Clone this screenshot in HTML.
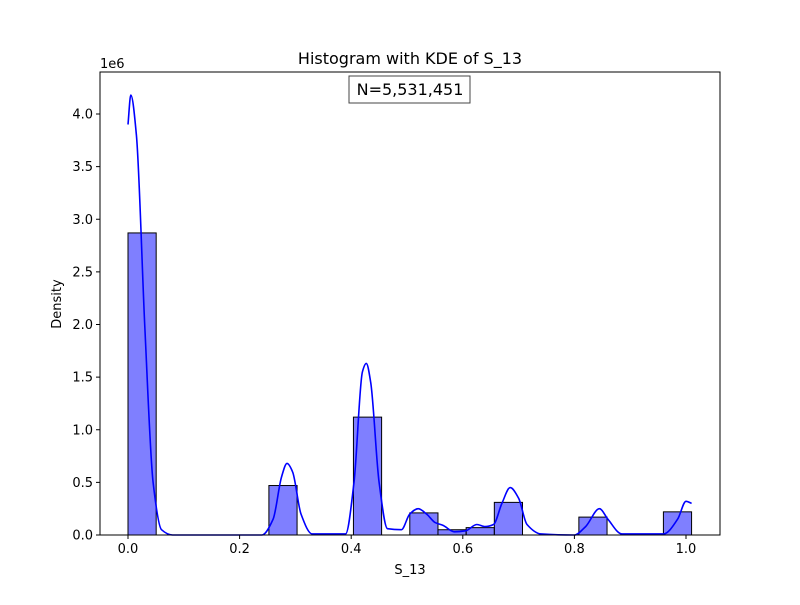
<!DOCTYPE html>
<html><head><meta charset="utf-8"><style>
body{margin:0;background:#fff}
svg{font-family:"DejaVu Sans","Liberation Sans",sans-serif}
</style></head><body>
<svg id="chart" width="800" height="600">
<rect width="800" height="600" fill="#fff"/>
<g id="bars"></g>
<g id="kde"></g>
<rect x="100" y="72" width="620" height="463" fill="none" stroke="#000" stroke-width="1"/>
<g id="xt"></g>
<g id="yt"></g>
<text x="410" y="64" font-size="16" text-anchor="middle">Histogram with KDE of S_13</text>
<text x="100" y="68" font-size="13">1e6</text>
<text x="410" y="574" font-size="13" text-anchor="middle">S_13</text>
<text x="61" y="304" font-size="13" text-anchor="middle" transform="rotate(-90 61 304)">Density</text>
<rect x="349" y="76" width="121" height="27" fill="#fff" stroke="#444"/>
<text x="410" y="95" font-size="16" text-anchor="middle">N=5,531,451</text>
</svg>
<script>
const binIndex=[0,5,8,10,11,12,13,16,19];
const binValues=[2.87,0.47,1.12,0.21,0.05,0.07,0.31,0.17,0.22];
const binWidth=0.0505;
const kdeX=[0,0.005,0.015,0.03,0.045,0.06,0.08,0.24,0.26,0.275,0.285,0.295,0.31,0.33,0.39,0.405,0.42,0.427,0.435,0.45,0.465,0.49,0.505,0.52,0.535,0.55,0.565,0.585,0.605,0.625,0.64,0.655,0.67,0.685,0.70,0.715,0.74,0.8,0.82,0.845,0.86,0.885,0.96,0.985,1.0,1.01];
const kdeY=[3.9,4.18,3.8,2.0,0.5,0.05,0.0,0.0,0.15,0.55,0.68,0.6,0.2,0.01,0.01,0.5,1.55,1.63,1.45,0.5,0.06,0.05,0.2,0.25,0.2,0.12,0.09,0.03,0.04,0.1,0.08,0.1,0.3,0.45,0.35,0.1,0.01,0.0,0.08,0.25,0.15,0.01,0.01,0.15,0.32,0.3];
const xTicks=[0,0.2,0.4,0.6,0.8,1.0];
const xTickLabels=["0.0","0.2","0.4","0.6","0.8","1.0"];
const yTicks=[0,0.5,1,1.5,2,2.5,3,3.5,4];
const yTickLabels=["0.0","0.5","1.0","1.5","2.0","2.5","3.0","3.5","4.0"];
const NS="http://www.w3.org/2000/svg";
const sx=v=>128+v*558, sy=v=>535-v*105.25;
function mk(t,a,p){const e=document.createElementNS(NS,t);for(const k in a)e.setAttribute(k,a[k]);p.appendChild(e);return e;}
const bg=document.getElementById('bars');
binIndex.forEach((b,i)=>{const x0=sx(b*binWidth),x1=sx((b+1)*binWidth);
const r=mk('rect',{x:x0,y:sy(binValues[i]),width:x1-x0,height:sy(0)-sy(binValues[i]),fill:'rgba(0,0,255,0.5)',stroke:'#000','stroke-width':1},bg);

});
// smooth curve (monotone cubic through points)
const P=kdeX.map((x,i)=>[sx(x),sy(kdeY[i])]);
const n=P.length,m=[];
for(let i=0;i<n;i++){let s0=i>0?(P[i][1]-P[i-1][1])/(P[i][0]-P[i-1][0]):null,s1=i<n-1?(P[i+1][1]-P[i][1])/(P[i+1][0]-P[i][0]):null;
if(s0===null)m.push(s1);else if(s1===null)m.push(s0);else if(s0*s1<=0)m.push(0);else m.push(2/(1/s0+1/s1));}
let d='M'+P[0][0].toFixed(1)+','+P[0][1].toFixed(1);
for(let i=0;i<n-1;i++){const h=(P[i+1][0]-P[i][0])/3;
d+='C'+(P[i][0]+h).toFixed(1)+','+(P[i][1]+m[i]*h).toFixed(1)+' '+(P[i+1][0]-h).toFixed(1)+','+(P[i+1][1]-m[i+1]*h).toFixed(1)+' '+P[i+1][0].toFixed(1)+','+P[i+1][1].toFixed(1);}
const pl=mk('path',{d:d,fill:'none',stroke:'#0000ff','stroke-width':1.6,'stroke-linejoin':'round'},document.getElementById('kde'));


const xt=document.getElementById('xt');
xTicks.forEach((v,i)=>{mk('line',{x1:sx(v),x2:sx(v),y1:535,y2:539,stroke:'#000'},xt);
const t=mk('text',{x:sx(v),y:553,'font-size':13,'text-anchor':'middle'},xt);t.textContent=xTickLabels[i];

});
const yt=document.getElementById('yt');
yTicks.forEach((v,i)=>{mk('line',{x1:96,x2:100,y1:sy(v),y2:sy(v),stroke:'#000'},yt);
const t=mk('text',{x:93,y:sy(v)+4.5,'font-size':13,'text-anchor':'end'},yt);t.textContent=yTickLabels[i];

});
</script>
</body></html>
